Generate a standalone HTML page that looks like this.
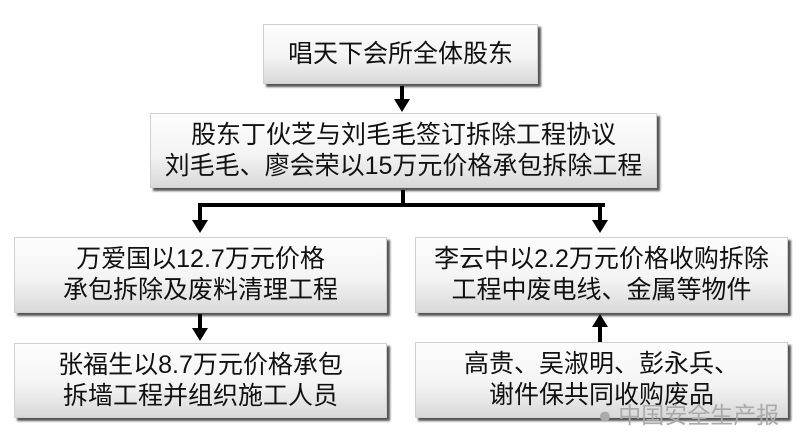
<!DOCTYPE html>
<html><head><meta charset="utf-8"><style>
body{margin:0;width:800px;height:445px;background:#fff;position:relative;overflow:hidden;font-family:"Liberation Sans","Noto Sans CJK SC",sans-serif;}
.b{position:absolute;box-sizing:border-box;border:1px solid #d0d0d0;background:linear-gradient(#fdfdfd 0%,#f4f4f4 55%,#d9d9d9 100%);box-shadow:3px 3px 2px #555;display:flex;align-items:center;justify-content:center;text-align:center;font-size:25px;line-height:31px;color:#111;}
.l{position:absolute;background:#000;}
.a{position:absolute;width:0;height:0;border-left:8px solid transparent;border-right:8px solid transparent;}
.d{border-top:13px solid #000;}
.u{border-bottom:13px solid #000;}
</style></head><body>
<div class="b" style="left:263px;top:24px;width:275px;height:60px;">唱天下会所全体股东</div>
<div class="b" style="left:150px;top:113px;width:507px;height:75px;">股东丁伙芝与刘毛毛签订拆除工程协议<br>刘毛毛、廖会荣以15万元价格承包拆除工程</div>
<div class="b" style="left:14px;top:237px;width:373px;height:76px;">万爱国以12.7万元价格<br>承包拆除及废料清理工程</div>
<div class="b" style="left:415px;top:237px;width:373px;height:76px;">李云中以2.2万元价格收购拆除<br>工程中废电线、金属等物件</div>
<div class="b" style="left:14px;top:343px;width:373px;height:75px;">张福生以8.7万元价格承包<br>拆墙工程并组织施工人员</div>
<div class="b" style="left:415px;top:342px;width:373px;height:76px;">高贵、吴淑明、彭永兵、<br>谢件保共同收购废品</div>
<div class="l" style="left:400px;top:86px;width:4px;height:14px;"></div>
<div class="a d" style="left:394px;top:99px;"></div>
<div class="l" style="left:401px;top:190px;width:4px;height:16px;"></div>
<div class="l" style="left:198px;top:203px;width:407px;height:4px;"></div>
<div class="l" style="left:198px;top:203px;width:4px;height:18px;"></div>
<div class="a d" style="left:192px;top:220px;"></div>
<div class="l" style="left:598px;top:203px;width:4px;height:18px;"></div>
<div class="a d" style="left:592px;top:220px;"></div>
<div class="l" style="left:198px;top:314px;width:4px;height:16px;"></div>
<div class="a d" style="left:192px;top:328px;"></div>
<div class="a u" style="left:592px;top:314px;"></div>
<div class="l" style="left:598px;top:326px;width:4px;height:16px;"></div>
<div style="position:absolute;left:598px;top:396px;font-size:23px;color:#aaa;">● 中国安全生产报</div>
</body></html>
